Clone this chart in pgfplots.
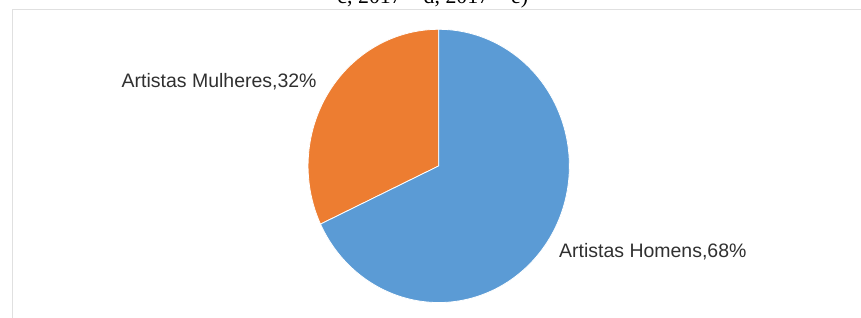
\documentclass[border=0pt]{standalone}
\usepackage{pgfplots}
\pgfplotsset{compat=1.18}
\usepackage{pgfplotstable}
\usepackage{fontspec}
\setmainfont{Liberation Sans}
\newfontfamily\seriffont{Liberation Serif}
\definecolor{pieblue}{HTML}{5B9BD5}
\definecolor{pieorange}{HTML}{ED7D31}
\definecolor{labeltext}{HTML}{303030}
\definecolor{framegray}{HTML}{E0E0E0}
\pgfplotstableread{
label value
Homens 68
Mulheres 32
}\piedata
\begin{document}
\pgfplotstablegetelem{0}{value}\of\piedata \let\vh=\pgfplotsretval
\pgfplotstablegetelem{1}{value}\of\piedata \let\vm=\pgfplotsretval
\pgfmathsetmacro\aone{90+3.6*\vm}
\pgfmathsetmacro\atwo{\aone+3.6*\vh}
\begin{tikzpicture}
\useasboundingbox (0,0) rectangle (861pt,320pt);
\clip (0,0) rectangle (861pt,320pt);
\begin{axis}[at={(0,0)}, anchor=south west, scale only axis,
  width=861pt, height=320pt, xmin=0, xmax=861, ymin=0, ymax=320,
  hide axis, clip=false]
% frame
\addplot[draw=framegray, line width=1pt] coordinates {(7,-5) (7,310.5) (875,310.5)};
% slices (center 436,153; radii 131.5 x 137.5)
\addplot[fill=pieorange, draw=white, line width=0.8pt, domain=90:\aone, samples=120, variable=\t]
  ({436+131.5*cos(t)},{153+137.5*sin(t)}) -- (axis cs:436,153) -- cycle;
\addplot[fill=pieblue, draw=white, line width=0.8pt, domain=\aone:\atwo, samples=200, variable=\t]
  ({436+131.5*cos(t)},{153+137.5*sin(t)}) -- (axis cs:436,153) -- cycle;
% labels
\node[text=labeltext, font=\fontsize{19.6}{22}\selectfont, anchor=center] at (axis cs:215,238) {Artistas Mulheres,32\%};
\node[text=labeltext, font=\fontsize{19.6}{22}\selectfont, anchor=center] at (axis cs:651.5,67) {Artistas Homens,68\%};
% clipped caption text at top
\node[text=black, font=\seriffont\fontsize{22}{24}\selectfont, anchor=base] at (axis cs:430,316.5) {c, 2017\quad d, 2017\quad e)};
\end{axis}
\end{tikzpicture}
\end{document}
